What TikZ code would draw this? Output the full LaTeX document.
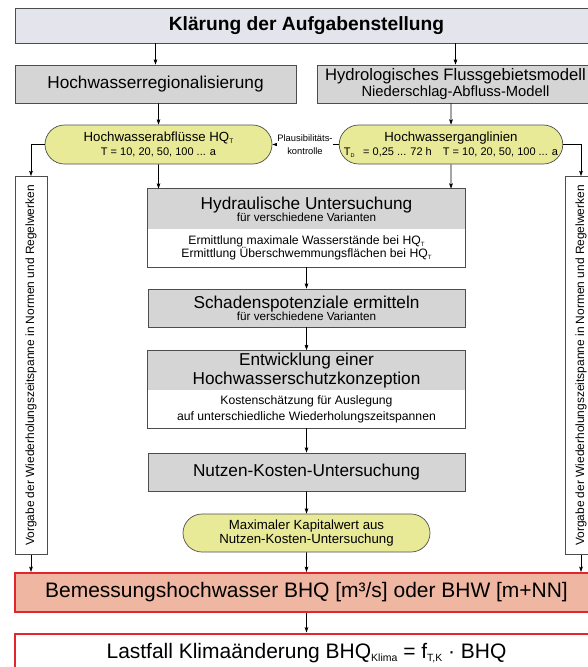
\documentclass[tikz,border=0pt]{standalone}
\usepackage{fontspec}
\setmainfont{Liberation Sans}
\usepackage{graphicx}
\usepackage{tikz}
\usetikzlibrary{arrows.meta,positioning,shapes.misc}
\definecolor{taskfill}{HTML}{E4E4EC}
\definecolor{boxgray}{HTML}{D5D5D5}
\definecolor{pillyel}{HTML}{E9EA98}
\definecolor{ressal}{HTML}{EFB6A1}
\definecolor{resred}{HTML}{E2262E}
\definecolor{linec}{HTML}{4D4D4D}
\newcommand{\fmain}{\fontsize{14.7}{15.5}\selectfont}
\newcommand{\fsub}{\fontsize{12.6}{13.7}\selectfont}
\newcommand{\fpill}{\fontsize{11.3}{12.5}\selectfont}
\newcommand{\fpills}{\fontsize{9.4}{12}\selectfont}
\newcommand{\fsmall}{\fontsize{10}{10.5}\selectfont}
\newcommand{\fbody}{\fontsize{10.4}{11.5}\selectfont}
\newcommand{\fbig}{\fontsize{17.9}{21}\selectfont}
\newcommand{\fside}{\fontsize{10.2}{12}\selectfont}
\newcommand{\fplaus}{\fontsize{8}{10.5}\selectfont}
\newcommand{\lowidx}[1]{\raisebox{-0.3ex}{\scalebox{0.5}{#1}}}
\tikzset{
  task/.style={draw=linec,fill=taskfill,minimum width=17.49cm,minimum height=1.05cm,inner sep=0pt,font=\bfseries\fontsize{16.4}{19}\selectfont},
  gbox/.style={draw=linec,fill=boxgray,minimum height=1.14cm,align=center,inner sep=0pt},
  pill/.style={rounded rectangle,draw=linec,fill=pillyel,minimum height=1.17cm,align=center,inner sep=0pt,font=\fpills},
  head/.style={fill=boxgray,minimum width=9.51cm,minimum height=1.2cm,align=center,inner sep=0pt,font=\fsmall},
  body/.style={fill=white,minimum width=9.51cm,minimum height=1.14cm,align=center,inner sep=0pt,font=\fbody},
  frame/.style={draw=linec,line width=0.6pt},
  res/.style={draw=resred,line width=1.7pt,minimum width=17.49cm,minimum height=1.17cm,inner sep=0pt,font=\fbig},
  side/.style={draw=linec,fill=white,rotate=90,minimum width=11.34cm,minimum height=0.96cm,inner sep=0pt,font=\fside},
  plaus/.style={fill=white,align=center,inner sep=0.4pt,font=\fplaus},
  arr/.style={-{Stealth[length=1.6mm,width=1.1mm,inset=0.3mm]},line width=0.5pt,draw=black},
}
\begin{document}
\begin{tikzpicture}[x=0.03cm,y=-0.03cm,line width=0.6pt]
\useasboundingbox (0,0) rectangle (588,667);
% top rows
\node[task] (task) at (306.5,25.5) {Klärung der Aufgabenstellung};
\node[gbox,minimum width=8.43cm,font=\fmain] (reg) at (155.5,84) {Hochwasserregionalisierung};
\node[gbox,minimum width=8.31cm,font=\fsub] (hydm) at (455.5,84) {{\fontsize{14.2}{15.5}\selectfont Hydrologisches Flussgebietsmodell}\\Niederschlag-Abfluss-Modell};
\node[pill,minimum width=6.81cm] (hq) at (158.5,144.5) {{\fpill Hochwasserabflüsse HQ\lowidx{T}}\\T = 10, 20, 50, 100 ... a};
\node[pill,minimum width=6.69cm] (gang) at (451,144.5) {{\fpill Hochwasserganglinien}\\T\lowidx{D}\enspace\ = 0,25 ... 72 h\quad T = 10, 20, 50, 100 ... a};
% main column
\node[head] (hyd) at (306.5,209) {{\fmain Hydraulische Untersuchung}\\für verschiedene Varianten};
\node[body] (hydb) at (306.5,248) {Ermittlung maximale Wasserstände bei HQ\lowidx{T}\\Ermittlung Überschwemmungsflächen bei HQ\lowidx{T}};
\draw[frame] (hyd.north west) rectangle (hydb.south east);
\node[gbox,minimum width=9.51cm,font=\fsmall] (scha) at (306.5,308) {{\fmain Schadenspotenziale ermitteln}\\für verschiedene Varianten};
\node[head,font=\fmain] (ent) at (306.5,370.5) {Entwicklung einer\\Hochwasserschutzkonzeption};
\node[body] (entb) at (306.5,409) {Kostenschätzung für Auslegung\\[2pt]auf unterschiedliche Wiederholungszeitspannen};
\draw[frame] (ent.north west) rectangle (entb.south east);
\node[gbox,minimum width=9.51cm,font=\fmain] (nutz) at (306.5,472) {Nutzen-Kosten-Untersuchung};
\node[pill,minimum width=7.41cm,minimum height=1.14cm,font=\fpill] (maxk) at (306.5,533) {Maximaler Kapitalwert aus\\Nutzen-Kosten-Untersuchung};
\node[res,fill=ressal] (bem) at (306.5,592.5) {Bemessungshochwasser BHQ [m³/s] oder BHW [m+NN]};
\node[res,fill=white] (last) at (306.5,653) {Lastfall Klimaänderung BHQ\lowidx{Klima} = f\lowidx{T,K} · BHQ};
\foreach \n/\x in {lside/31,rside/581}
  \node[side] (\n) at (\x,365.5) {Vorgabe der Wiederholungszeitspanne in Normen und Regelwerken};
% connectors
\draw[arr] (reg |- task.south) -- (reg);
\draw[arr] (hydm |- task.south) -- (hydm);
\draw[arr] (hq |- reg.south) -- (hq);
\draw[arr] (gang |- hydm.south) -- (gang);
\draw[arr] (hq) -- (hq |- hyd.north);
\draw[arr] (gang) -- (gang |- hyd.north);
\draw[arr] (gang) -- (hq);
\node[plaus] (pk) at (305,144.5) {Plausibilitäts-\\kontrolle};
\draw[arr] (hq.west) -| (lside.east);
\draw[arr] (gang.east) -| (rside.east);
\foreach \s in {lside,rside} \draw[arr] (\s.west) -- (\s.west |- bem.north);
\foreach \a/\b in {hydb/scha,scha/ent,entb/nutz,nutz/maxk,maxk/bem,bem/last} \draw[arr] (\a) -- (\b);
\end{tikzpicture}
\end{document}
